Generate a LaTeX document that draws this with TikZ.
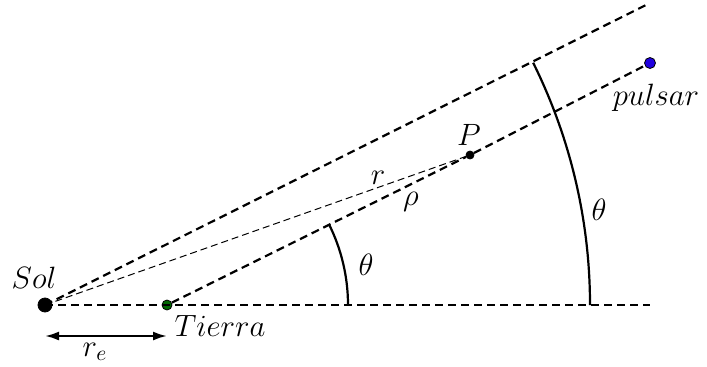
\documentclass[tikz,border=0pt]{standalone}
\usepackage{tikz}
\usetikzlibrary{calc,arrows.meta}
\tikzset{
  raydash/.style={line width=1.1pt, dash pattern=on 4pt off 2.5pt},
  thinray/.style={line width=0.5pt, dash pattern=on 3.5pt off 2pt},
  body/.style={circle, draw=black, inner sep=0pt, minimum size=#1},
  lbl/.style={font=\Large, scale=1.07},
}
\begin{document}
\begin{tikzpicture}[x=0.5pt, y=0.5pt, >={Latex[length=7pt,width=4.5pt]}]
  \useasboundingbox (0,0) rectangle (707,366);
  \coordinate (top) at (646,361); \coordinate (hend) at (650,61);
  \node[body=7pt, fill=black] (sol) at (45,61) {};
  \node[body=5pt, fill=green!40!black] (tierra) at (167,61) {};
  \node[body=5.5pt, fill=blue!75!violet] (pulsar) at (650,303) {};
  \node[body=4pt, fill=black] (P) at (470,211) {};
  \draw[raydash] (sol.center) -- (hend);
  \draw[raydash] (sol.center) -- (top);
  \draw[raydash] (tierra) -- (P) -- (pulsar);
  \draw[thinray] (sol.center) -- (P);
  \draw[line width=1.1pt] ($(tierra)+(181,0)$) arc (0:26.6:181);
  \draw[line width=1.1pt] ($(sol)+(545,0)$) arc (0:26.4:545);
  \draw[line width=1.1pt, <->] (45,30) -- (167,30);
  \node[lbl] (lsol) at (34,88) {$Sol$};
  \node[lbl] (ltierra) at (220,40) {$Tierra$};
  \node[lbl] (lpulsar) at (656,268) {$pulsar$};
  \node[lbl] (lP) at (469,231) {$P$};
  \node[lbl] (lr) at (378,188) {$r$};
  \node[lbl] (lrho) at (411,164) {$\rho$};
  \node[lbl] (lre) at (95,14) {$r_e$};
  \node[lbl] (lth1) at (366,101) {$\theta$};
  \node[lbl] (lth2) at (599,156) {$\theta$};
\end{tikzpicture}
\end{document}
